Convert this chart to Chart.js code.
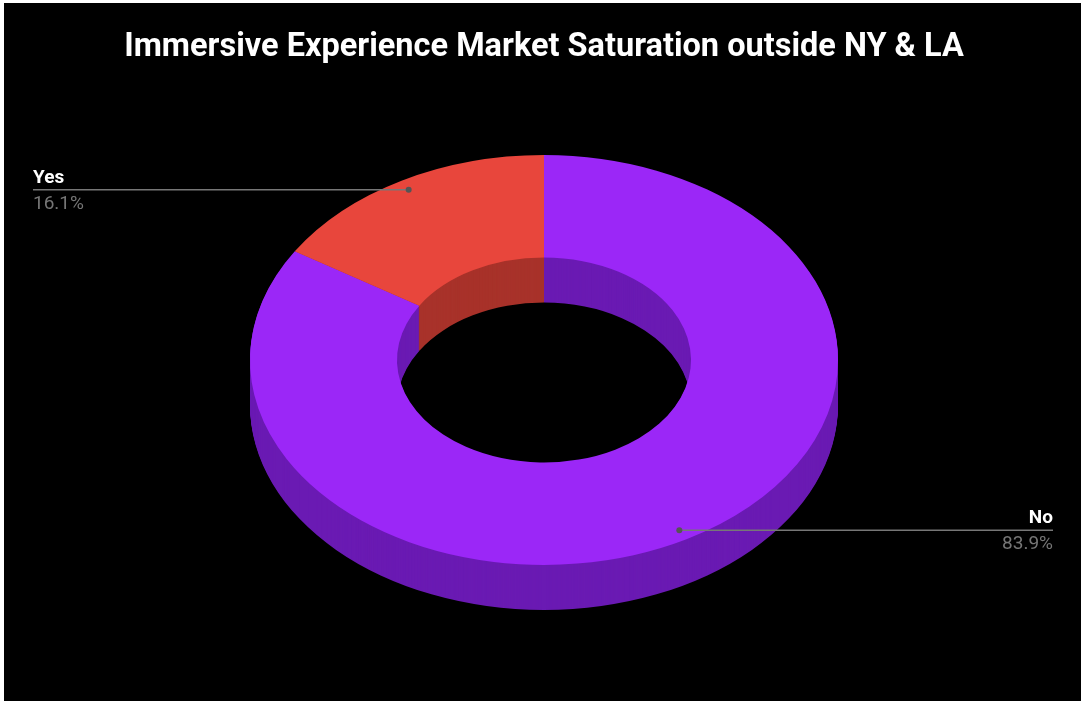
<!DOCTYPE html>
<html>
<head>
<meta charset="utf-8">
<title>Immersive Experience Market Saturation</title>
<script src="https://cdn.jsdelivr.net/npm/chart.js@4/dist/chart.umd.min.js"></script>
<style>
    html, body { margin: 0; padding: 0; background: #fff; }
    #wrap { position: absolute; left: 4px; top: 3px; width: 1077px; height: 698px; background: #000; }
    canvas { display: block; }
</style>
</head>
<body>
<div id="wrap"><canvas id="chart" width="1077" height="698"></canvas></div>
<script>
(function () {
    "use strict";

    const categories = ["No", "Yes"];
    const shares = [83.9, 16.1];
    const topColors = ["#9b27f7", "#e8463c"];
    const sideColors = ["#6a1ab3", "#a8322a"];

    // vertical squash of the ring and thickness of the slab
    const tilt = 0.697;
    const depth = 45;

    function squash(ctx, cx, cy) {
        ctx.translate(cx, cy);
        ctx.scale(1, tilt);
        ctx.translate(-cx, -cy);
    }

    function ringPath(ctx, arc) {
        const p = arc.getProps(["x", "y", "startAngle", "endAngle", "innerRadius", "outerRadius"], true);
        ctx.beginPath();
        ctx.arc(p.x, p.y, p.outerRadius, p.startAngle, p.endAngle);
        ctx.arc(p.x, p.y, p.innerRadius, p.endAngle, p.startAngle, true);
        ctx.closePath();
    }

    // draws the slab walls, then leaves the context squashed for the top faces
    const tiltedRing = {
        id: "tiltedRing",
        beforeDatasetsDraw(chart) {
            const ctx = chart.ctx;
            const arcs = chart.getDatasetMeta(0).data;
            const { x, y } = arcs[0];
            for (let d = depth; d > 0; d--) {
                ctx.save();
                ctx.translate(0, d);
                squash(ctx, x, y);
                arcs.forEach((arc, i) => {
                    ctx.fillStyle = sideColors[i];
                    ringPath(ctx, arc);
                    ctx.fill();
                });
                ctx.restore();
            }
            ctx.save();
            squash(ctx, x, y);
        },
        afterDatasetsDraw(chart) {
            chart.ctx.restore();
        },
    };

    // leader lines with name and share
    const sliceLabels = {
        id: "sliceLabels",
        afterDraw(chart) {
            const ctx = chart.ctx;
            const arcs = chart.getDatasetMeta(0).data;
            const total = shares.reduce((a, b) => a + b, 0);
            const leftX = 29;
            const rightX = chart.width - 28;
            arcs.forEach((arc, i) => {
                const p = arc.getProps(["x", "y", "startAngle", "endAngle", "outerRadius"], true);
                const mid = (p.startAngle + p.endAngle) / 2;
                const r = p.outerRadius * 0.95;
                const ax = p.x + Math.cos(mid) * r;
                const ay = p.y + Math.sin(mid) * r * tilt;
                const onLeft = ax < p.x;
                const endX = onLeft ? leftX : rightX;

                ctx.save();
                ctx.strokeStyle = "#777";
                ctx.lineWidth = 1.5;
                ctx.beginPath();
                ctx.moveTo(ax, ay);
                ctx.lineTo(endX, ay);
                ctx.stroke();
                ctx.fillStyle = "#555";
                ctx.beginPath();
                ctx.arc(ax, ay, 3, 0, Math.PI * 2);
                ctx.fill();

                ctx.textAlign = onLeft ? "left" : "right";
                ctx.textBaseline = "alphabetic";
                ctx.fillStyle = "#fff";
                ctx.font = "bold 19px Roboto";
                ctx.fillText(categories[i], endX, ay - 7);
                ctx.fillStyle = "#767676";
                ctx.font = "19px Roboto";
                ctx.fillText((shares[i] / total * 100).toFixed(1) + "%", endX, ay + 19);
                ctx.restore();
            });
        },
    };

    new Chart(document.getElementById("chart"), {
        type: "doughnut",
        data: {
            labels: categories,
            datasets: [
                {
                    data: shares,
                    backgroundColor: topColors,
                    borderWidth: 0,
                    radius: 294,
                    cutout: "50%",
                    clip: false,
                },
            ],
        },
        options: {
            responsive: false,
            animation: false,
            layout: { padding: { left: 3, right: 0, top: 0, bottom: 48 } },
            plugins: {
                legend: { display: false },
                tooltip: { enabled: false },
                title: {
                    display: true,
                    text: "Immersive Experience Market Saturation outside NY & LA",
                    color: "#fff",
                    font: { family: "Roboto", size: 32.5, weight: "bold" },
                    padding: { top: 25, bottom: 0 },
                },
            },
        },
        plugins: [tiltedRing, sliceLabels],
    });
})();
</script>
</body>
</html>
